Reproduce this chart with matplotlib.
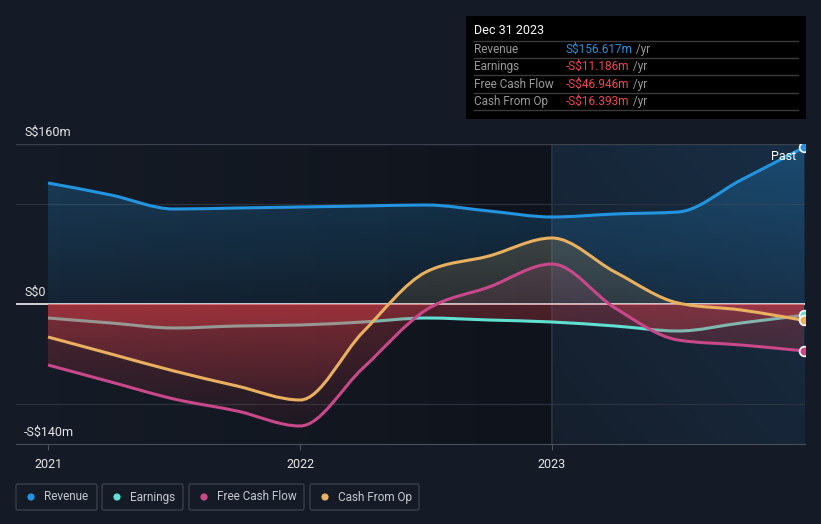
import numpy as np
import matplotlib; matplotlib.use("Agg")
import matplotlib.pyplot as plt
from matplotlib.path import Path
from matplotlib.patches import PathPatch, FancyBboxPatch, Circle

plt.rcParams['font.family'] = ['Roboto', 'DejaVu Sans']

# quarterly points, 2021-Q1 .. 2023-Q4 end (S$ m)
QUARTERS = [2021.0 + 0.25*i for i in range(13)]
revenue  = [121, 109, 95, 96, 97, 98, 99, 93, 87, 90, 92, 124, 156.6]
earnings = [-14, -19, -24, -22, -21, -18, -14, -16, -18, -22, -27, -19, -11.2]
fcf      = [-61, -78, -95, -107, -122, -64, -6, 17, 40, -4, -36, -41, -46.9]
cfo      = [-33, -50, -67, -82, -96, -28, 32, 48, 66, 32, 1, -6, -16.4]

NAMES  = ["Revenue", "Earnings", "Free Cash Flow", "Cash From Op"]
COLORS = ["#2394df", "#5fe0d0", "#c8488a", "#e8b05f"]
TIP_VALUES = ["S$156.617m", "-S$11.186m", "-S$46.946m", "-S$16.393m"]
YTICKS = [(160, "S$160m"), (0, "S$0"), (-140, "-S$140m")]
XTICKS = [2021, 2022, 2023]

BG = "#151b26"
XMIN, XMAX = 2021 - 32/252, 2021 + 757/252
YMIN, YMAX = -140, 160


def mono_slopes(x, y):
    x = np.asarray(x, float); y = np.asarray(y, float)
    h = np.diff(x); s = np.diff(y)/h; n = len(x); t = np.zeros(n)
    for i in range(1, n-1):
        p = (s[i-1]*h[i] + s[i]*h[i-1])/(h[i-1]+h[i])
        t[i] = (np.sign(s[i-1])+np.sign(s[i]))*min(abs(s[i-1]), abs(s[i]), 0.5*abs(p))
    t[0] = (3*s[0]-t[1])/2; t[-1] = (3*s[-1]-t[-2])/2
    return t


def curve(x, y, close=False):
    t = mono_slopes(x, y)
    verts = [(x[0], y[0])]; codes = [Path.MOVETO]
    for i in range(len(x)-1):
        dx = (x[i+1]-x[i])/3
        verts += [(x[i]+dx, y[i]+dx*t[i]), (x[i+1]-dx, y[i+1]-dx*t[i+1]), (x[i+1], y[i+1])]
        codes += [Path.CURVE4]*3
    if close:
        verts += [(x[-1], 0), (x[0], 0), (x[0], y[0])]
        codes += [Path.LINETO, Path.LINETO, Path.CLOSEPOLY]
    return Path(verts, codes)


def grad(ax, clip, color, y0, y1, a0, a1, z):
    rgb = matplotlib.colors.to_rgb(color)
    a = np.linspace(a0, a1, 200)
    img = np.zeros((200, 1, 4)); img[..., :3] = rgb; img[:, 0, 3] = a
    im = ax.imshow(img, extent=[QUARTERS[0], QUARTERS[-1], y0, y1], origin="lower",
                   aspect="auto", zorder=z, interpolation="bilinear")
    im.set_clip_path(PathPatch(clip, transform=ax.transData))


fig = plt.figure(figsize=(8.21, 5.24), dpi=100, facecolor=BG)
ax = fig.add_axes([16/821, 80/524, 789/821, 300/524], facecolor=BG)

# background shading: darkening up to 2023, blue "past" zone after
dark = np.zeros((1, 100, 4)); dark[0, :, 3] = np.linspace(0, 0.28, 100)
ax.imshow(dark, extent=[2021, 2023, YMIN, YMAX], aspect="auto", zorder=0)
blue = np.zeros((100, 100, 4)); blue[..., :3] = matplotlib.colors.to_rgb("#1f5f94")
gx, gy = np.meshgrid(np.linspace(0, 1, 100), np.linspace(0, 1, 100))
blue[..., 3] = 0.06 + 0.22*(0.5*gx + 0.5*gy)
ax.imshow(blue, extent=[2023, XMAX, YMIN, YMAX], origin="lower", aspect="auto", zorder=0)
ax.axvline(2023, color="#223040", lw=1.5, zorder=1)

for v in (100, -100):
    ax.axhline(v, color="#2c323d", lw=0.9, zorder=1)
ax.axhline(160, color="#3b414c", lw=1, zorder=1)
ax.axhline(0, color="#f2f2f2", lw=1.2, zorder=2)

series = [revenue, earnings, fcf, cfo]
RED = "#e0404a"

# revenue area
grad(ax, curve(QUARTERS, revenue, True), COLORS[0], 0, 160, 0.08, 0.3, 2)
# earnings area + line (below the other fills so it gets tinted)
grad(ax, curve(QUARTERS, earnings, True), RED, -140, 0, 0.02, 0.3, 3)
ax.add_patch(PathPatch(curve(QUARTERS, earnings), fc="none", ec=COLORS[1], lw=2.2, zorder=4))
for vals, col, z in [(fcf, COLORS[2], 5), (cfo, COLORS[3], 5)]:
    p = curve(QUARTERS, vals, True)
    grad(ax, p, col, 0, 160, 0.12, 0.3, z)
    grad(ax, p, RED, -140, 0, 0.02, 0.3, z)
for vals, col in [(fcf, COLORS[2]), (cfo, COLORS[3]), (revenue, COLORS[0])]:
    ax.add_patch(PathPatch(curve(QUARTERS, vals), fc="none", ec=col, lw=2.2, zorder=6))

for vals, col in zip(series, COLORS):
    ax.plot(QUARTERS[-1], vals[-1], "o", ms=7, mfc=col, mec="white", mew=1.2, zorder=7)

ax.text(2023.97, 147, "Past", color="white", fontsize=9, ha="right", va="center", zorder=8)

for v, lab in YTICKS:
    ax.text(XMIN + 8/252, v + 5, lab, color="#e6e6e6", fontsize=9, va="bottom", zorder=8)

ax.set_xlim(XMIN, XMAX); ax.set_ylim(YMIN, YMAX)
ax.set_xticks(XTICKS); ax.set_xticklabels([str(x) for x in XTICKS])
ax.set_yticks([])
ax.tick_params(axis="x", colors="#4a505a", labelcolor="#e6e6e6", labelsize=9, length=4, pad=6)
for s in ("top", "left", "right"):
    ax.spines[s].set_visible(False)
ax.spines["bottom"].set_color("#4a505a")

# overlay in pixel coordinates for tooltip and legend
ov = fig.add_axes([0, 0, 1, 1], facecolor="none")
ov.set_xlim(0, 821); ov.set_ylim(524, 0); ov.axis("off")
ov.add_patch(plt.Rectangle((466, 16), 340, 103, fc="black", ec="none"))
ov.text(474, 31, "Dec 31 2023", color="white", fontsize=9, va="center")
for yl in (41, 58, 75, 93, 110):
    ov.plot([474, 798], [yl, yl], color="#3a3a3a", lw=1)
for i, (nm, val) in enumerate(zip(NAMES, TIP_VALUES)):
    yy = 49.5 + i*17.3
    ov.text(474, yy, nm, color="#9a9a9a", fontsize=8.5, va="center")
    t = ov.text(566, yy, val, color=COLORS[0] if i == 0 else "#f0474f", fontsize=8.5, va="center")
    ov.annotate(" /yr", xy=(1, 0.5), xycoords=t, va="center", ha="left", color="#9a9a9a", fontsize=8.5)

LEG_BOX = [(16, 81), (102, 81), (189, 115), (310, 109)]
for (x0, w), nm, col in zip(LEG_BOX, NAMES, COLORS):
    ov.add_patch(FancyBboxPatch((x0, 484), w, 26, boxstyle="round,pad=0,rounding_size=2",
                                fc="none", ec="#3a404b", lw=1))
    ov.add_patch(Circle((x0 + 15, 497), 3.6, fc=col, ec="none"))
    ov.text(x0 + 28, 497, nm, color="#c5c9cf", fontsize=8.5, va="center")

fig.savefig("out.png", dpi=100, facecolor=BG)
